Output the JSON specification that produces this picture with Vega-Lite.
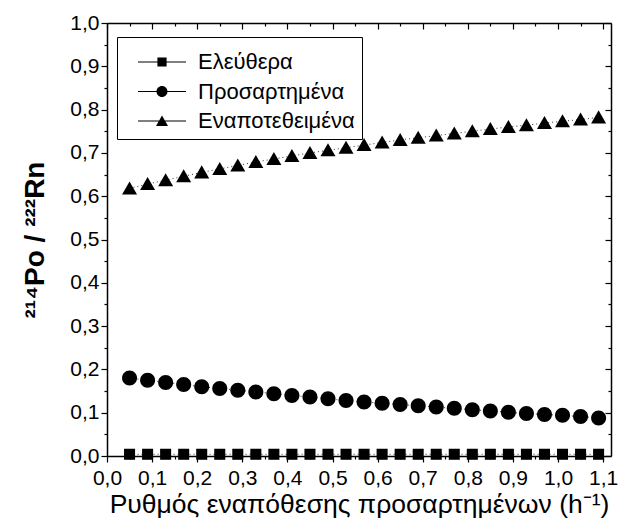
{
  "$schema": "https://vega.github.io/schema/vega-lite/v6.json",
  "width": 504,
  "height": 433,
  "autosize": {"type": "none"},
  "padding": {"left": 107, "top": 23, "right": 7, "bottom": 71},
  "background": "white",
  "config": {
    "view": {"stroke": null},
    "font": "Liberation Sans",
    "locale": {"number": {"decimal": ",", "thousands": ".", "grouping": [3], "currency": ["", " €"]}},
    "axis": {
      "domainColor": "black", "tickColor": "black", "domainWidth": 1.5, "tickWidth": 1.2,
      "labelColor": "black", "titleColor": "black", "grid": false,
      "labelFont": "Liberation Sans", "titleFont": "Liberation Sans", "labelFontSize": 21,
      "labelOverlap": false, "labelFlush": false, "labelBound": false
    }
  },
  "data": {"values": [
    {"series": "Ελεύθερα", "x": 0.05, "y": 0.004},
    {"series": "Ελεύθερα", "x": 0.09, "y": 0.004},
    {"series": "Ελεύθερα", "x": 0.13, "y": 0.004},
    {"series": "Ελεύθερα", "x": 0.17, "y": 0.004},
    {"series": "Ελεύθερα", "x": 0.21, "y": 0.004},
    {"series": "Ελεύθερα", "x": 0.25, "y": 0.004},
    {"series": "Ελεύθερα", "x": 0.29, "y": 0.004},
    {"series": "Ελεύθερα", "x": 0.33, "y": 0.004},
    {"series": "Ελεύθερα", "x": 0.37, "y": 0.004},
    {"series": "Ελεύθερα", "x": 0.41, "y": 0.004},
    {"series": "Ελεύθερα", "x": 0.45, "y": 0.004},
    {"series": "Ελεύθερα", "x": 0.49, "y": 0.004},
    {"series": "Ελεύθερα", "x": 0.53, "y": 0.004},
    {"series": "Ελεύθερα", "x": 0.57, "y": 0.004},
    {"series": "Ελεύθερα", "x": 0.61, "y": 0.004},
    {"series": "Ελεύθερα", "x": 0.65, "y": 0.004},
    {"series": "Ελεύθερα", "x": 0.69, "y": 0.004},
    {"series": "Ελεύθερα", "x": 0.73, "y": 0.004},
    {"series": "Ελεύθερα", "x": 0.77, "y": 0.004},
    {"series": "Ελεύθερα", "x": 0.81, "y": 0.004},
    {"series": "Ελεύθερα", "x": 0.85, "y": 0.004},
    {"series": "Ελεύθερα", "x": 0.89, "y": 0.004},
    {"series": "Ελεύθερα", "x": 0.93, "y": 0.004},
    {"series": "Ελεύθερα", "x": 0.97, "y": 0.004},
    {"series": "Ελεύθερα", "x": 1.01, "y": 0.004},
    {"series": "Ελεύθερα", "x": 1.05, "y": 0.004},
    {"series": "Ελεύθερα", "x": 1.09, "y": 0.004},
    {"series": "Προσαρτημένα", "x": 0.05, "y": 0.180},
    {"series": "Προσαρτημένα", "x": 0.09, "y": 0.175},
    {"series": "Προσαρτημένα", "x": 0.13, "y": 0.170},
    {"series": "Προσαρτημένα", "x": 0.17, "y": 0.165},
    {"series": "Προσαρτημένα", "x": 0.21, "y": 0.160},
    {"series": "Προσαρτημένα", "x": 0.25, "y": 0.156},
    {"series": "Προσαρτημένα", "x": 0.29, "y": 0.152},
    {"series": "Προσαρτημένα", "x": 0.33, "y": 0.148},
    {"series": "Προσαρτημένα", "x": 0.37, "y": 0.144},
    {"series": "Προσαρτημένα", "x": 0.41, "y": 0.140},
    {"series": "Προσαρτημένα", "x": 0.45, "y": 0.136},
    {"series": "Προσαρτημένα", "x": 0.49, "y": 0.132},
    {"series": "Προσαρτημένα", "x": 0.53, "y": 0.128},
    {"series": "Προσαρτημένα", "x": 0.57, "y": 0.125},
    {"series": "Προσαρτημένα", "x": 0.61, "y": 0.122},
    {"series": "Προσαρτημένα", "x": 0.65, "y": 0.119},
    {"series": "Προσαρτημένα", "x": 0.69, "y": 0.116},
    {"series": "Προσαρτημένα", "x": 0.73, "y": 0.113},
    {"series": "Προσαρτημένα", "x": 0.77, "y": 0.110},
    {"series": "Προσαρτημένα", "x": 0.81, "y": 0.107},
    {"series": "Προσαρτημένα", "x": 0.85, "y": 0.104},
    {"series": "Προσαρτημένα", "x": 0.89, "y": 0.101},
    {"series": "Προσαρτημένα", "x": 0.93, "y": 0.098},
    {"series": "Προσαρτημένα", "x": 0.97, "y": 0.096},
    {"series": "Προσαρτημένα", "x": 1.01, "y": 0.094},
    {"series": "Προσαρτημένα", "x": 1.05, "y": 0.091},
    {"series": "Προσαρτημένα", "x": 1.09, "y": 0.088},
    {"series": "Εναποτεθειμένα", "x": 0.05, "y": 0.618},
    {"series": "Εναποτεθειμένα", "x": 0.09, "y": 0.628},
    {"series": "Εναποτεθειμένα", "x": 0.13, "y": 0.637},
    {"series": "Εναποτεθειμένα", "x": 0.17, "y": 0.646},
    {"series": "Εναποτεθειμένα", "x": 0.21, "y": 0.655},
    {"series": "Εναποτεθειμένα", "x": 0.25, "y": 0.663},
    {"series": "Εναποτεθειμένα", "x": 0.29, "y": 0.671},
    {"series": "Εναποτεθειμένα", "x": 0.33, "y": 0.679},
    {"series": "Εναποτεθειμένα", "x": 0.37, "y": 0.686},
    {"series": "Εναποτεθειμένα", "x": 0.41, "y": 0.693},
    {"series": "Εναποτεθειμένα", "x": 0.45, "y": 0.700},
    {"series": "Εναποτεθειμένα", "x": 0.49, "y": 0.706},
    {"series": "Εναποτεθειμένα", "x": 0.53, "y": 0.712},
    {"series": "Εναποτεθειμένα", "x": 0.57, "y": 0.718},
    {"series": "Εναποτεθειμένα", "x": 0.61, "y": 0.724},
    {"series": "Εναποτεθειμένα", "x": 0.65, "y": 0.730},
    {"series": "Εναποτεθειμένα", "x": 0.69, "y": 0.735},
    {"series": "Εναποτεθειμένα", "x": 0.73, "y": 0.740},
    {"series": "Εναποτεθειμένα", "x": 0.77, "y": 0.745},
    {"series": "Εναποτεθειμένα", "x": 0.81, "y": 0.750},
    {"series": "Εναποτεθειμένα", "x": 0.85, "y": 0.755},
    {"series": "Εναποτεθειμένα", "x": 0.89, "y": 0.760},
    {"series": "Εναποτεθειμένα", "x": 0.93, "y": 0.764},
    {"series": "Εναποτεθειμένα", "x": 0.97, "y": 0.769},
    {"series": "Εναποτεθειμένα", "x": 1.01, "y": 0.773},
    {"series": "Εναποτεθειμένα", "x": 1.05, "y": 0.777},
    {"series": "Εναποτεθειμένα", "x": 1.09, "y": 0.782}
  ]},
  "layer": [
    {
      "mark": {"type": "line", "color": "black", "strokeWidth": 1, "strokeDash": [1, 3], "opacity": 0.8},
      "encoding": {
        "x": {"field": "x", "type": "quantitative", "scale": {"domain": [0, 1.1175], "nice": false, "zero": false}, "axis": null},
        "y": {"field": "y", "type": "quantitative", "scale": {"domain": [0, 1], "nice": false}, "axis": null},
        "detail": {"field": "series"}
      }
    },
    {
      "mark": {"type": "point", "filled": true, "color": "black", "opacity": 1, "size": 144},
      "encoding": {
        "x": {"field": "x", "type": "quantitative", "scale": {"domain": [0, 1.1175], "nice": false, "zero": false},
          "axis": {"orient": "bottom", "values": [0,0.05,0.1,0.15,0.2,0.25,0.3,0.35,0.4,0.45,0.5,0.55,0.6,0.65,0.7,0.75,0.8,0.85,0.9,0.95,1,1.05,1.1],
            "format": ".1f", "labelExpr": "round(datum.value*100)%10==0 ? datum.label : ''",
            "tickSize": {"condition": {"test": "round(datum.value*100)%10==0", "value": 6}, "value": 3},
            "labelPadding": 5, "title": "Ρυθμός εναπόθεσης προσαρτημένων (h⁻¹)", "titleFontSize": 26.5, "titleFontWeight": "normal", "titlePadding": 3}},
        "y": {"field": "y", "type": "quantitative", "scale": {"domain": [0, 1], "nice": false},
          "axis": {"orient": "left", "values": [0,0.05,0.1,0.15,0.2,0.25,0.3,0.35,0.4,0.45,0.5,0.55,0.6,0.65,0.7,0.75,0.8,0.85,0.9,0.95,1],
            "format": ".1f", "labelExpr": "round(datum.value*100)%10==0 ? datum.label : ''",
            "tickSize": {"condition": {"test": "round(datum.value*100)%10==0", "value": 6}, "value": 3},
            "labelPadding": 2, "title": "²¹⁴Po / ²²²Rn", "titleFontSize": 28, "titleFontWeight": "bold", "titlePadding": 20}},
        "shape": {"field": "series", "type": "nominal",
          "scale": {"domain": ["Ελεύθερα", "Προσαρτημένα", "Εναποτεθειμένα"],
            "range": ["M-0.92,-0.92H0.92V0.92H-0.92Z", "M-1.25,0A1.25,1.25,0,1,1,1.25,0A1.25,1.25,0,1,1,-1.25,0Z", "M0,-1.17L1.25,1H-1.25Z"]},
          "legend": null}
      }
    },
    {
      "mark": {"type": "point", "filled": true, "color": "black", "opacity": 0, "size": 100},
      "encoding": {
        "x": {"field": "x", "type": "quantitative", "scale": {"domain": [0, 1.1175], "nice": false, "zero": false},
          "axis": {"orient": "top", "values": [0,0.05,0.1,0.15,0.2,0.25,0.3,0.35,0.4,0.45,0.5,0.55,0.6,0.65,0.7,0.75,0.8,0.85,0.9,0.95,1,1.05,1.1],
            "labels": false, "title": null,
            "tickSize": {"condition": {"test": "round(datum.value*100)%10==0", "value": -6}, "value": -3}}},
        "y": {"field": "y", "type": "quantitative", "scale": {"domain": [0, 1], "nice": false},
          "axis": {"orient": "right", "values": [0,0.05,0.1,0.15,0.2,0.25,0.3,0.35,0.4,0.45,0.5,0.55,0.6,0.65,0.7,0.75,0.8,0.85,0.9,0.95,1],
            "labels": false, "title": null,
            "tickSize": {"condition": {"test": "round(datum.value*100)%10==0", "value": -6}, "value": -3}}},
        "shape": {"field": "series", "type": "nominal",
          "scale": {"domain": ["Ελεύθερα", "Προσαρτημένα", "Εναποτεθειμένα"],
            "range": [
              "M-4.8,-0.1H-0.9V0.1H-4.8ZM0.9,-0.1H4.8V0.1H0.9ZM-0.92,-0.92H0.92V0.92H-0.92Z",
              "M-4.8,-0.1H-1.05V0.1H-4.8ZM1.05,-0.1H4.8V0.1H1.05ZM-1.1,0A1.1,1.1,0,1,1,1.1,0A1.1,1.1,0,1,1,-1.1,0Z",
              "M-4.8,-0.1H-0.6V0.1H-4.8ZM0.6,-0.1H4.8V0.1H0.6ZM0,-1.1L1.2,1H-1.2Z"
            ]},
          "legend": {
            "title": " ", "titleFontSize": 5, "titlePadding": 2.5,
            "orient": "none", "legendX": 10, "legendY": 14, "padding": 6.5,
            "strokeColor": "black", "labelFontSize": 22, "labelFont": "Liberation Sans", "labelColor": "black",
            "symbolSize": 100, "symbolOffset": 27.5, "symbolOpacity": 1, "symbolFillColor": "black",
            "labelOffset": 25, "rowPadding": 7.5,
            "encode": {
              "symbols": {"fill": {"value": "black"}, "opacity": {"value": 1}, "fillOpacity": {"value": 1}},
              "legend": {"strokeWidth": {"value": 1.2}}
            }
          }}
      }
    }
  ],
  "resolve": {
    "scale": {"x": "independent", "y": "independent", "shape": "independent"},
    "axis": {"x": "independent", "y": "independent"},
    "legend": {"shape": "independent"}
  }
}
